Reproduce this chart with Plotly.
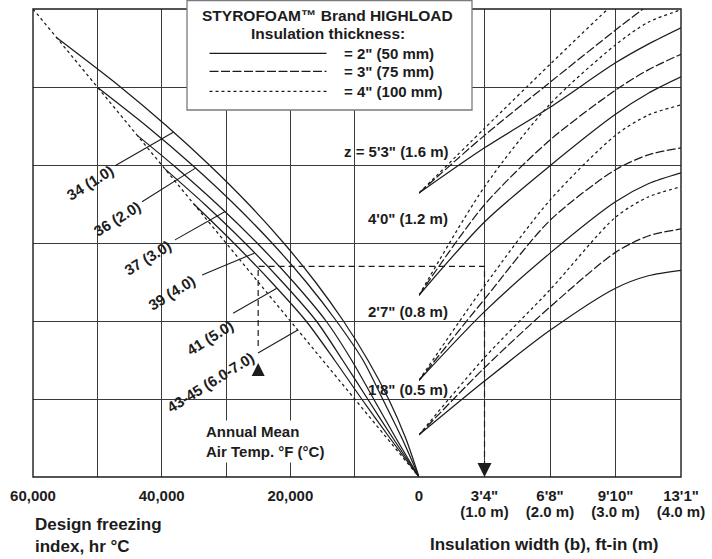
import plotly.graph_objects as go

# ---------------- data ----------------
# Left panel: design freezing index (hr °C) against the common chart scale y
FI_34 = [56300, 46410, 39220, 32590, 26510, 21030, 16100, 11750, 7960, 4730, 2080, 0]
Y_34 = [5.63, 5.0, 4.5, 4.0, 3.5, 3.0, 2.5, 2.0, 1.5, 1.0, 0.5, 0.0]
FI_36 = [49900, 42360, 35260, 28750, 22850, 17540, 12840, 8720, 5650, 2670, 0]
Y_36 = [4.99, 4.5, 4.0, 3.5, 3.0, 2.5, 2.0, 1.5, 1.0, 0.5, 0.0]
FI_37 = [43800, 38230, 31410, 25170, 19510, 14450, 10490, 7050, 3600, 0]
Y_37 = [4.38, 4.0, 3.5, 3.0, 2.5, 2.0, 1.5, 1.0, 0.5, 0.0]
FI_39 = [39500, 33370, 27050, 21240, 15960, 11890, 7980, 4070, 0]
Y_39 = [3.95, 3.5, 3.0, 2.5, 2.0, 1.5, 1.0, 0.5, 0.0]
FI_41 = [35000, 28790, 22960, 17560, 13140, 8910, 4530, 0]
Y_41 = [3.5, 3.0, 2.5, 2.0, 1.5, 1.0, 0.5, 0.0]
FI_43 = [60000, 0]
Y_43 = [6.0, 0.0]

TEMP_LABELS = ["34 (1.0)", "36 (2.0)", "37 (3.0)", "39 (4.0)", "41 (5.0)", "43-45 (6.0-7.0)"]
LABEL_FI = [51130, 46930, 42110, 38380, 32480, 32480]
LABEL_Y = [3.78, 3.32, 2.81, 2.36, 1.79, 1.21]
LEADER_FI0 = [47240, 43050, 37920, 33720, 28900, 25020]
LEADER_Y0 = [3.99, 3.53, 3.04, 2.59, 2.10, 1.59]
LEADER_FI1 = [38200, 34750, 30200, 25600, 22100, 18850]
LEADER_Y1 = [4.42, 3.96, 3.40, 2.87, 2.42, 1.885]

# Right panel: insulation width b (m) against the same chart scale y
B = [0, 1, 2, 3, 3.5, 4]
Z05_2 = [0.54, 1.23, 1.88, 2.42, 2.58, 2.65]
Z05_3 = [0.54, 1.40, 2.18, 2.88, 3.09, 3.18]
Z05_4 = [0.54, 1.53, 2.40, 3.33, 3.59, 3.72]
Z08_2 = [1.24, 2.12, 2.87, 3.53, 3.76, 3.90]
Z08_3 = [1.24, 2.28, 3.29, 3.94, 4.13, 4.22]
Z08_4 = [1.24, 2.45, 3.55, 4.38, 4.64, 4.77]
Z12_2 = [2.33, 3.27, 3.99, 4.65, 4.92, 5.13]
Z12_3 = [2.33, 3.49, 4.32, 4.96, 5.22, 5.42]
Z12_4 = [2.33, 3.72, 4.78, 5.54, 5.83, 5.99]
Z16_2 = [3.64, 4.22, 4.74, 5.31, 5.55, 5.76]
Z16_3 = [3.64, 4.38, 5.06, 5.73, 6.05, 6.35]
Z16_4 = [3.64, 4.47, 5.29, 6.09, 6.45, 6.82]

DEPTH_LABELS = ["z = 5'3\" (1.6 m)", "4'0\" (1.2 m)", "2'7\" (0.8 m)", "1'8\" (0.5 m)"]
DEPTH_LABEL_Y = [4.17, 3.32, 2.12, 1.12]

THICKNESS_NAMES = ['= 2" (50 mm)', '= 3" (75 mm)', '= 4" (100 mm)']
LEGEND_TITLE = ["STYROFOAM™ Brand HIGHLOAD", "Insulation thickness:"]

# worked example
EX_FI = [25000, 25000, 0]
EX_FI_Y = [1.68, 2.70, 2.70]
EX_B = [0, 1.0, 1.0]
EX_B_Y = [2.70, 2.70, 0.15]

FI_TICKS = [60000, 50000, 40000, 30000, 20000, 10000]
FI_TICKTEXT = ["60,000", "", "40,000", "", "20,000", ""]
B_TICKS = [0, 1, 2, 3, 4]
B_TICKTEXT_FTIN = ["0", "3'4\"", "6'8\"", "9'10\"", "13'1\""]
B_TICKTEXT_M = ["", "(1.0 m)", "(2.0 m)", "(3.0 m)", "(4.0 m)"]

# ---------------- styling ----------------
FONT = "Liberation Sans, Arial, Helvetica, sans-serif"
INK = "#1c1c1c"
GRID = "#3a3a3a"
LW = 1.25
DASH3 = "9px,2.5px"
DOT4 = "3px,3px"
NB = "\u00a0"
LEG_NAMES = ["legend", "legend2", "legend3"]

fig = go.Figure()

for fx, fy in [(FI_34, Y_34), (FI_36, Y_36), (FI_37, Y_37), (FI_39, Y_39), (FI_41, Y_41)]:
    fig.add_trace(go.Scatter(x=fx, y=fy, xaxis="x", yaxis="y", mode="lines",
                             line=dict(color=INK, width=LW, shape="spline", smoothing=0.8),
                             showlegend=False, hoverinfo="skip"))
fig.add_trace(go.Scatter(x=FI_43, y=Y_43, xaxis="x", yaxis="y", mode="lines",
                         line=dict(color=INK, width=LW, dash=DOT4),
                         showlegend=False, hoverinfo="skip"))

for i in range(len(TEMP_LABELS)):
    fig.add_trace(go.Scatter(x=[LEADER_FI0[i], LEADER_FI1[i]], y=[LEADER_Y0[i], LEADER_Y1[i]],
                             xaxis="x", yaxis="y", mode="lines",
                             line=dict(color=INK, width=1.1), showlegend=False, hoverinfo="skip"))

groups = [(Z05_2, Z05_3, Z05_4), (Z08_2, Z08_3, Z08_4), (Z12_2, Z12_3, Z12_4), (Z16_2, Z16_3, Z16_4)]
styles = [None, DASH3, DOT4]
for gi, grp in enumerate(groups):
    for si, yv in enumerate(grp):
        ln = dict(color=INK, width=LW, shape="spline", smoothing=0.8)
        if styles[si]:
            ln["dash"] = styles[si]
        fig.add_trace(go.Scatter(x=B, y=yv, xaxis="x2", yaxis="y", mode="lines", line=ln,
                                 name=NB * 3 + THICKNESS_NAMES[si], showlegend=(gi == 0),
                                 legend=LEG_NAMES[si], hoverinfo="skip"))

# example path
fig.add_trace(go.Scatter(x=EX_FI, y=EX_FI_Y, xaxis="x", yaxis="y", mode="lines",
                         line=dict(color=INK, width=1.2, dash="6px,4px"),
                         showlegend=False, hoverinfo="skip"))
fig.add_trace(go.Scatter(x=[EX_FI[0]], y=[1.46], xaxis="x", yaxis="y", mode="markers",
                         marker=dict(symbol="arrow-up", size=13, color=INK),
                         showlegend=False, hoverinfo="skip", cliponaxis=False))
fig.add_trace(go.Scatter(x=EX_B, y=EX_B_Y, xaxis="x2", yaxis="y", mode="lines",
                         line=dict(color=INK, width=1.2, dash="6px,4px"),
                         showlegend=False, hoverinfo="skip"))
fig.add_trace(go.Scatter(x=[EX_B[-1]], y=[0.0], xaxis="x2", yaxis="y", mode="markers",
                         marker=dict(symbol="arrow-down", size=14, color=INK),
                         showlegend=False, hoverinfo="skip", cliponaxis=False))
# invisible trace that carries the metre tick row (xaxis3)
fig.add_trace(go.Scatter(x=[0, 4], y=[0, 0], xaxis="x3", yaxis="y", mode="lines",
                         line=dict(width=0, color="rgba(0,0,0,0)"), showlegend=False,
                         hoverinfo="skip"))

ann = []
for i, t in enumerate(TEMP_LABELS):
    ann.append(dict(x=LABEL_FI[i], y=LABEL_Y[i], xref="x", yref="y", text=t, showarrow=False,
                    textangle=-32, font=dict(size=15)))
for t, yy in zip(DEPTH_LABELS, DEPTH_LABEL_Y):
    ann.append(dict(x=0.475, y=yy, xref="x2", yref="y", text=t, showarrow=False,
                    xanchor="right", font=dict(size=15)))
ann.append(dict(x=33570, y=0.45, xref="x", yref="y", text="Annual Mean<br>Air Temp. °F (°C)",
                showarrow=False, xanchor="left", align="left", bgcolor="white",
                font=dict(size=15), borderpad=2))
ann.append(dict(x=0, y=-0.124, xref="paper", yref="paper", text="Design freezing<br>index, hr °C",
                showarrow=False, xanchor="left", yanchor="middle", align="left", font=dict(size=17)))
ann.append(dict(x=0.79, y=-0.145, xref="paper", yref="paper", text="Insulation width (b), ft-in (m)",
                showarrow=False, xanchor="center", yanchor="middle", font=dict(size=17)))
ann.append(dict(x=0.455, y=0.987, xref="paper", yref="paper", text=LEGEND_TITLE[0],
                showarrow=False, xanchor="center", yanchor="middle", font=dict(size=15.5)))
ann.append(dict(x=0.455, y=0.9466, xref="paper", yref="paper", text=LEGEND_TITLE[1],
                showarrow=False, xanchor="center", yanchor="middle", font=dict(size=15.5)))

D = 386 / 648
axcommon = dict(showgrid=True, gridcolor=GRID, gridwidth=1.1, zeroline=False, showline=False,
                ticks="", fixedrange=True, tickfont=dict(size=15), automargin=False)
legcommon = dict(x=(204.5 - 33) / 648, xanchor="left", yanchor="top", bgcolor="rgba(0,0,0,0)",
                 borderwidth=0, itemwidth=117, font=dict(size=15))
row_tops = [37, 55, 75]
fig.update_layout(
    width=712, height=559,
    margin=dict(l=33, r=31, t=9, b=82, autoexpand=False),
    paper_bgcolor="white", plot_bgcolor="white",
    font=dict(family=FONT, size=15, color=INK, weight="bold"),
    xaxis=dict(domain=[0, D], range=[60000, 0], tickvals=FI_TICKS, ticktext=FI_TICKTEXT,
               anchor="y", ticklabelstandoff=8, **axcommon),
    xaxis2=dict(domain=[D, 1], range=[0, 4], tickvals=B_TICKS, ticktext=B_TICKTEXT_FTIN,
                anchor="y", ticklabelstandoff=8, **axcommon),
    xaxis3=dict(domain=[D, 1], range=[0, 4], tickvals=B_TICKS, ticktext=B_TICKTEXT_M,
                anchor="y", overlaying="x2", side="bottom", showgrid=False, zeroline=False,
                showline=False, ticks="", fixedrange=True, tickfont=dict(size=15),
                automargin=False, ticklabelstandoff=24),
    yaxis=dict(range=[0, 6], tickvals=[1, 2, 3, 4, 5], showticklabels=False, **axcommon),
    annotations=ann,
    shapes=[
        dict(type="rect", xref="paper", yref="paper", x0=0, x1=1, y0=0, y1=1,
             line=dict(color=INK, width=1.4), layer="above"),
        dict(type="rect", xref="paper", yref="paper", x0=(187 - 33) / 648, x1=(472 - 33) / 648,
             y0=(477 - 110) / 468, y1=(477 - 0.5) / 468, fillcolor="white",
             line=dict(color="#7a7a7a", width=1.3), layer="above"),
    ],
    showlegend=True,
    legend=dict(y=(477 - row_tops[0]) / 468, **legcommon),
    legend2=dict(y=(477 - row_tops[1]) / 468, **legcommon),
    legend3=dict(y=(477 - row_tops[2]) / 468, **legcommon),
)

fig.write_html("out.html", config={"displayModeBar": False},
               post_script="document.body.style.margin='0px';document.body.style.overflow='hidden';")
